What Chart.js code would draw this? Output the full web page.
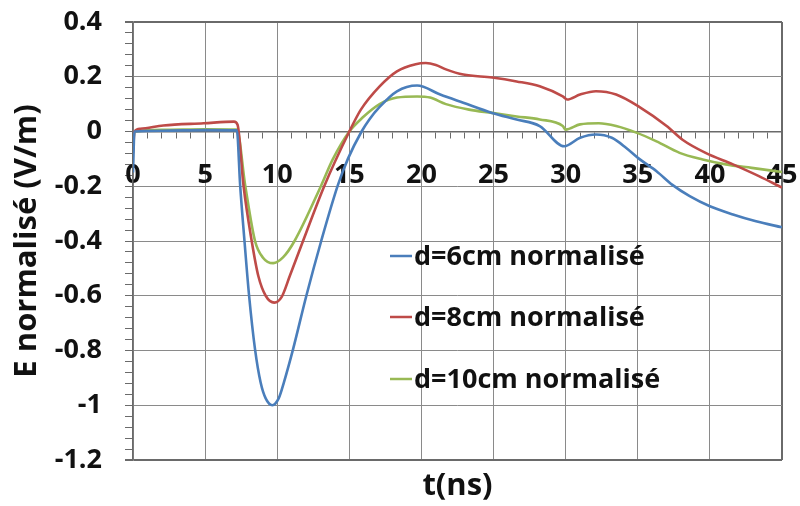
<!DOCTYPE html>
<html>
<head>
<meta charset="utf-8">
<script src="https://cdn.jsdelivr.net/npm/chart.js@4.4.1/dist/chart.umd.min.js"></script>
<style>
html,body{margin:0;padding:0;background:#fff;}
#wrap{width:800px;height:506px;position:relative;}
</style>
</head>
<body>
<div id="wrap"><canvas id="c" width="800" height="506"></canvas></div>
<script>
// ---- data ----
const seriesLabels = ["d=6cm normalisé", "d=8cm normalisé", "d=10cm normalisé"];

const t6 = [0, 0.1, 2, 5, 7.2, 7.43, 7.73, 8.05, 8.46, 8.85, 9.2, 9.66, 10.1, 10.46, 11.1, 12.02, 13.05, 14.2, 14.9, 15.85, 16.4, 17.1, 18.3, 19.7, 21.3, 22.9, 24.9, 26.6, 28.2, 29.9, 31.0, 32.1, 33.2, 34.2, 35.1, 36.3, 37.4, 38.6, 40.0, 41.6, 43.2, 45];
const e6 = [-0.15, 0.0, 0.003, 0.005, 0.004, -0.197, -0.4, -0.6, -0.795, -0.917, -0.975, -1.0, -0.975, -0.917, -0.795, -0.6, -0.4, -0.197, -0.1, 0.0, 0.045, 0.09, 0.147, 0.168, 0.135, 0.105, 0.068, 0.044, 0.02, -0.054, -0.023, -0.011, -0.023, -0.06, -0.10, -0.145, -0.195, -0.236, -0.273, -0.303, -0.328, -0.35];

const t8 = [0, 0.1, 0.5, 2.1, 4.9, 7.0, 7.25, 7.66, 8.23, 8.69, 9.2, 9.8, 10.3, 10.87, 11.79, 13.28, 15.0, 15.8, 17.1, 18.3, 19.6, 20.3, 21.0, 21.7, 22.9, 24.9, 26.6, 28.2, 29.8, 30.1, 31.0, 32.1, 33.5, 35.1, 37.0, 38.1, 39.7, 41.6, 43.4, 45];
const e8 = [-0.08, 0.0, 0.01, 0.022, 0.03, 0.036, 0.025, -0.197, -0.4, -0.528, -0.6, -0.625, -0.605, -0.528, -0.4, -0.197, 0.0, 0.08, 0.165, 0.22, 0.246, 0.25, 0.243, 0.227, 0.208, 0.197, 0.183, 0.165, 0.128, 0.117, 0.135, 0.147, 0.135, 0.09, 0.02, -0.03, -0.078, -0.12, -0.163, -0.205];

const t10 = [0, 0.1, 2, 5, 7.2, 7.78, 8.46, 9.0, 9.72, 10.4, 11.2, 13.05, 13.85, 15.0, 15.9, 17.1, 18.3, 19.7, 20.6, 21.7, 23.3, 24.9, 26.6, 28.2, 29.8, 30.0, 31.0, 32.3, 33.5, 34.9, 36.3, 37.9, 39.5, 41.1, 42.9, 45];
const e10 = [-0.05, 0.0, 0.006, 0.008, 0.007, -0.197, -0.4, -0.46, -0.481, -0.46, -0.4, -0.197, -0.102, 0.0, 0.05, 0.1, 0.124, 0.128, 0.124, 0.1, 0.08, 0.068, 0.055, 0.044, 0.02, 0.007, 0.026, 0.03, 0.02, -0.004, -0.036, -0.078, -0.102, -0.12, -0.133, -0.148];

const xTicks = [0, 5, 10, 15, 20, 25, 30, 35, 40, 45];
const yTicks = [0.4, 0.2, 0, -0.2, -0.4, -0.6, -0.8, -1, -1.2];
const colors = ["#4a7ebb", "#be4b48", "#98b954"];

// ---- build ----
const toPts = (ts, vs) => ts.map((t, i) => ({x: t, y: vs[i]}));
const FONT = "'Open Sans'";
const isMajorX = v => xTicks.some(t => Math.abs(t - v) < 1e-6);
const isMajorY = v => yTicks.some(t => Math.abs(t - v) < 1e-6);
const GRID = '#8a8a8a', EDGE = '#6a6a6a';

const legendPlugin = {
  id: 'inLegend',
  afterDatasetsDraw(chart) {
    const ctx = chart.ctx;
    const rows = [256, 317, 379];
    ctx.save();
    ctx.font = "bold 27px " + FONT;
    ctx.textBaseline = 'middle';
    ctx.textAlign = 'left';
    chart.data.datasets.forEach((ds, i) => {
      const y = rows[i];
      ctx.strokeStyle = ds.borderColor;
      ctx.lineWidth = 2.5;
      ctx.beginPath();
      ctx.moveTo(390, y);
      ctx.lineTo(412, y);
      ctx.stroke();
      ctx.fillStyle = '#111';
      ctx.fillText(ds.label, 414, y + 1);
    });
    ctx.restore();
  }
};

new Chart(document.getElementById('c'), {
  type: 'line',
  data: {
    datasets: [
      {label: seriesLabels[0], data: toPts(t6, e6), borderColor: colors[0]},
      {label: seriesLabels[1], data: toPts(t8, e8), borderColor: colors[1]},
      {label: seriesLabels[2], data: toPts(t10, e10), borderColor: colors[2]}
    ].map(d => Object.assign(d, {borderWidth: 2.6, pointRadius: 0, fill: false, cubicInterpolationMode: 'monotone'}))
  },
  options: {
    responsive: false,
    animation: false,
    events: [],
    layout: {padding: {left: 0, right: 18, top: 22, bottom: 0}},
    plugins: {
      legend: {display: false},
      tooltip: {enabled: false}
    },
    scales: {
      x: {
        type: 'linear', min: 0, max: 45,
        position: {y: 0},
        afterFit: s => { s.paddingLeft = 0; s.paddingRight = 0; },
        ticks: {
          stepSize: 1, autoSkip: false, maxRotation: 0, padding: 22,
          color: '#111', font: {family: FONT, size: 27, weight: 'bold'},
          callback: v => isMajorX(v) ? String(Math.round(v)) : ''
        },
        grid: {
          drawTicks: true, tickLength: 6, tickColor: EDGE,
          color: c => c.tick && isMajorX(c.tick.value) ? (Math.abs(c.tick.value - 45) < 1e-6 ? EDGE : GRID) : 'rgba(0,0,0,0)',
          lineWidth: c => c.tick && Math.abs(c.tick.value - 45) < 1e-6 ? 2 : 1
        },
        border: {display: true, color: EDGE, width: 1.5}
      },
      xTitle: {
        type: 'linear', axis: 'x', min: 0, max: 45,
        position: 'bottom',
        afterFit: s => { s.height = 46; s.paddingLeft = 0; s.paddingRight = 0; },
        ticks: {display: false},
        grid: {display: false, drawTicks: false},
        border: {display: false},
        title: {
          display: true, text: 't(ns)', color: '#111',
          font: {family: FONT, size: 31, weight: 'bold'},
          padding: {top: 8, bottom: 1}
        }
      },
      y: {
        type: 'linear', min: -1.2, max: 0.4,
        afterFit: s => { s.width = 133; s.paddingTop = 0; s.paddingBottom = 0; },
        ticks: {
          stepSize: 0.04, autoSkip: false, padding: 23,
          color: '#111', font: {family: FONT, size: 27, weight: 'bold'},
          callback: v => isMajorY(v) ? String(Math.round(v * 10) / 10) : ''
        },
        grid: {
          drawTicks: true, tickLength: 8, tickColor: EDGE,
          color: c => {
            if (!c.tick) return 'rgba(0,0,0,0)';
            const v = c.tick.value;
            if (Math.abs(v - 0.4) < 1e-6 || Math.abs(v + 1.2) < 1e-6) return EDGE;
            return isMajorY(v) ? GRID : 'rgba(0,0,0,0)';
          },
          lineWidth: c => c.tick && (Math.abs(c.tick.value - 0.4) < 1e-6 || Math.abs(c.tick.value + 1.2) < 1e-6) ? 2 : 1
        },
        border: {display: true, color: EDGE, width: 1.5},
        title: {
          display: true, text: 'E normalisé (V/m)', color: '#111',
          font: {family: FONT, size: 31, weight: 'bold'},
          padding: {top: 9, bottom: 0}
        }
      }
    }
  },
  plugins: [legendPlugin]
});
</script>
</body>
</html>
